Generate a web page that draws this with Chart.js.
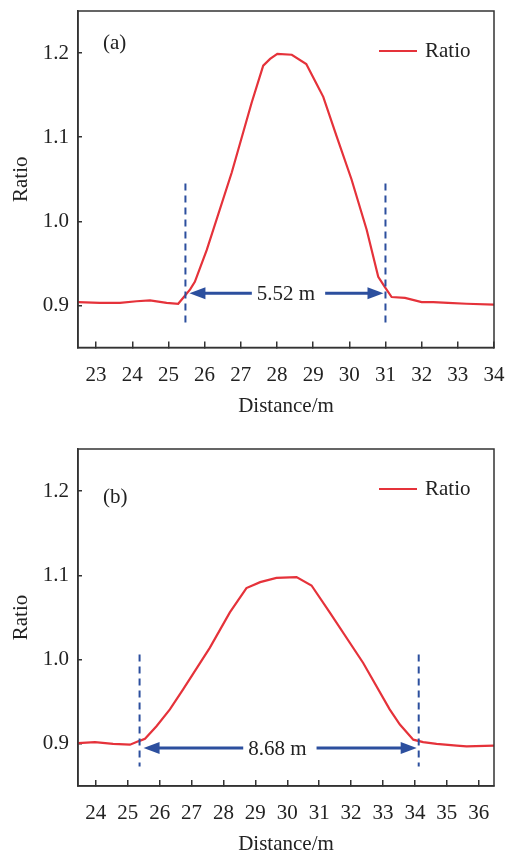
<!DOCTYPE html>
<html><head><meta charset="utf-8">
<script src="https://cdn.jsdelivr.net/npm/chart.js@4/dist/chart.umd.min.js"></script>
<style>
html,body{margin:0;padding:0;background:#fff;width:505px;height:852px;overflow:hidden;position:relative;}
canvas{position:absolute;left:0;}
#c1{top:0;}
#c2{top:430px;}
</style></head><body>
<canvas id="c1" width="505" height="426"></canvas>
<canvas id="c2" width="505" height="422"></canvas>
<script>
// ---- data ----
const distA  = [22.5, 23.1, 23.66, 24.12, 24.49, 24.95, 25.27, 25.6, 25.73, 26.06, 26.75, 27.3, 27.62, 27.81, 28.01, 28.41, 28.81, 29.1, 29.28, 29.65, 30.06, 30.48, 30.8, 30.98, 31.17, 31.54, 32.0, 32.32, 32.73, 33.24, 34.0];
const ratioA = [0.904, 0.903, 0.903, 0.905, 0.906, 0.903, 0.902, 0.919, 0.928, 0.966, 1.058, 1.141, 1.185, 1.193, 1.199, 1.198, 1.187, 1.163, 1.148, 1.101, 1.050, 0.990, 0.934, 0.922, 0.910, 0.909, 0.904, 0.904, 0.903, 0.902, 0.901];
const distB  = [23.44, 23.97, 24.54, 25.07, 25.33, 25.54, 25.9, 26.32, 26.74, 27.57, 28.2, 28.72, 29.15, 29.66, 30.29, 30.76, 31.33, 32.38, 33.21, 33.53, 33.95, 34.26, 34.68, 35.31, 35.62, 36.48];
const ratioB = [0.901, 0.902, 0.900, 0.899, 0.903, 0.906, 0.921, 0.941, 0.965, 1.014, 1.056, 1.085, 1.092, 1.097, 1.098, 1.088, 1.056, 0.996, 0.941, 0.923, 0.905, 0.902, 0.900, 0.898, 0.897, 0.898];

const xTicksA = [23, 24, 25, 26, 27, 28, 29, 30, 31, 32, 33, 34];
const xTicksB = [24, 25, 26, 27, 28, 29, 30, 31, 32, 33, 34, 35, 36];
const yTicks = [0.9, 1.0, 1.1, 1.2];
const yTickLabels = ['0.9', '1.0', '1.1', '1.2'];
const xRangeA = [22.5, 34];
const xRangeB = [23.44, 36.48];
const yRange = [0.85, 1.25];

const seriesName = 'Ratio';
const xTitle = 'Distance/m';
const yTitle = 'Ratio';
const panelA = '(a)';
const panelB = '(b)';

// width annotations: boundary x, dashed-line y extent, arrow y, label, label x
const boundsA = [25.47, 31.0];
const dashYA = [0.878, 1.045];
const arrowYA = 0.9145;
const labelA = '5.52 m';
const labelXA = 28.25;

const boundsB = [25.37, 34.12];
const dashYB = [0.873, 1.006];
const arrowYB = 0.895;
const labelB = '8.68 m';
const labelXB = 29.69;

// ---- styling ----
const FONT = "'Liberation Serif', 'Times New Roman', serif";
const TXT = '#222';
const AX = '#333';
const RED = '#e5323a';
const BLUE = '#2c4f9e';

function arrowHead(ctx, x, y, dir) {
  const L = 16, H = 6;
  ctx.beginPath();
  ctx.moveTo(x, y);
  ctx.lineTo(x - dir * L, y - H);
  ctx.lineTo(x - dir * L, y + H);
  ctx.closePath();
  ctx.fill();
}

function makeChart(id, xs, ys, xTicks, xRange, padTop, xAxisH, titlePadBottom, ann) {
  const overlay = {
    id: 'overlay_' + id,
    afterDraw(chart) {
      const {ctx, chartArea: ca, scales: {x, y}} = chart;
      ctx.save();
      // frame
      ctx.strokeStyle = AX;
      ctx.lineWidth = 1.5;
      ctx.strokeRect(ca.left, ca.top, ca.right - ca.left, ca.bottom - ca.top);
      // panel label
      ctx.fillStyle = TXT;
      ctx.font = '21px ' + FONT;
      ctx.textBaseline = 'middle';
      ctx.textAlign = 'left';
      ctx.fillText(ann.panel, 103, ca.top + ann.panelDy);
      // legend
      ctx.strokeStyle = RED;
      ctx.lineWidth = 2.2;
      ctx.beginPath();
      ctx.moveTo(379, ca.top + 40);
      ctx.lineTo(417, ca.top + 40);
      ctx.stroke();
      ctx.fillText(seriesName, 425, ca.top + 40);
      // dashed boundary lines
      ctx.strokeStyle = BLUE;
      ctx.lineWidth = 2;
      ctx.setLineDash([7, 5]);
      ann.bounds.forEach(b => {
        const px = x.getPixelForValue(b);
        ctx.beginPath();
        ctx.moveTo(px, y.getPixelForValue(ann.dashY[1]));
        ctx.lineTo(px, y.getPixelForValue(ann.dashY[0]));
        ctx.stroke();
      });
      ctx.setLineDash([]);
      // arrows + label
      const ay = y.getPixelForValue(ann.arrowY);
      const lx = x.getPixelForValue(ann.labelX);
      ctx.font = '21px ' + FONT;
      const tw = ctx.measureText(ann.label).width;
      const xl = x.getPixelForValue(ann.bounds[0]) + 4;
      const xr = x.getPixelForValue(ann.bounds[1]) - 2;
      ctx.strokeStyle = BLUE;
      ctx.fillStyle = BLUE;
      ctx.lineWidth = 3;
      ctx.beginPath();
      ctx.moveTo(xl + 10, ay); ctx.lineTo(lx - tw / 2 - 5, ay);
      ctx.moveTo(lx + tw / 2 + 10, ay); ctx.lineTo(xr - 10, ay);
      ctx.stroke();
      arrowHead(ctx, xl, ay, -1);
      arrowHead(ctx, xr, ay, 1);
      ctx.fillStyle = TXT;
      ctx.textAlign = 'center';
      ctx.fillText(ann.label, lx, ay + 1);
      ctx.restore();
    }
  };

  return new Chart(document.getElementById(id), {
    type: 'line',
    data: {
      datasets: [{
        label: seriesName,
        data: xs.map((v, i) => ({x: v, y: ys[i]})),
        borderColor: RED,
        backgroundColor: RED,
        borderWidth: 2.2,
        pointRadius: 0,
        tension: 0,
        fill: false
      }]
    },
    options: {
      responsive: false,
      animation: false,
      devicePixelRatio: 1,
      layout: {padding: {left: 0, right: 11, top: padTop, bottom: 0}},
      plugins: {legend: {display: false}, tooltip: {enabled: false}},
      scales: {
        x: {
          type: 'linear',
          min: xRange[0], max: xRange[1],
          afterBuildTicks: s => { s.ticks = xTicks.map(v => ({value: v})); },
          afterFit: s => { s.height = xAxisH; s.paddingLeft = 0; s.paddingRight = 0; s.paddingTop = 0; s.paddingBottom = 0; },
          grid: {drawOnChartArea: false, drawTicks: true, tickLength: -6, color: AX, lineWidth: 1.5},
          border: {display: true, color: AX, width: 1.5},
          ticks: {autoSkip: false, maxRotation: 0, padding: 21, color: TXT, font: {family: FONT, size: 21},
                  callback: v => String(v)},
          title: {display: true, text: xTitle, color: TXT, font: {family: FONT, size: 21}, padding: {top: 0, bottom: titlePadBottom}}
        },
        y: {
          min: yRange[0], max: yRange[1],
          afterBuildTicks: s => { s.ticks = yTicks.map(v => ({value: v})); },
          afterFit: s => { s.width = 78; s.paddingLeft = 0; s.paddingRight = 0; s.paddingTop = 0; s.paddingBottom = 0; },
          grid: {drawOnChartArea: false, drawTicks: true, tickLength: -4, color: AX, lineWidth: 1.5},
          border: {display: true, color: AX, width: 1.5},
          ticks: {padding: 13, color: TXT, font: {family: FONT, size: 21},
                  callback: (v, i) => yTickLabels[i]},
          title: {display: true, text: yTitle, color: TXT, font: {family: FONT, size: 21}, padding: {top: 9, bottom: 0}}
        }
      }
    },
    plugins: [overlay]
  });
}

makeChart('c1', distA, ratioA, xTicksA, xRangeA, 11, 78.5, 6.5,
  {panel: panelA, panelDy: 32, bounds: boundsA, dashY: dashYA, arrowY: arrowYA, label: labelA, labelX: labelXA});
makeChart('c2', distB, ratioB, xTicksB, xRangeB, 19, 66, -5.5,
  {panel: panelB, panelDy: 48, bounds: boundsB, dashY: dashYB, arrowY: arrowYB, label: labelB, labelX: labelXB});
</script>
</body></html>
